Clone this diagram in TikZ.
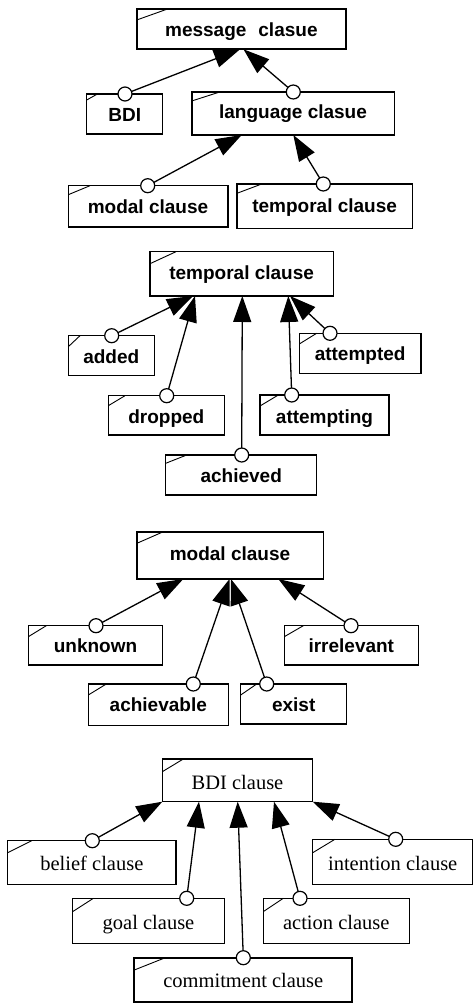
\documentclass[tikz,border=0pt]{standalone}
\usepackage{fontspec}
\setmainfont{Liberation Serif}
\setsansfont{Liberation Sans}
\usetikzlibrary{arrows.meta}
\tikzset{
  box/.style={draw, rectangle, inner sep=0pt, outer sep=0pt, line width=1.1pt, fill=white, text height=15pt, text depth=0pt},
  medbox/.style={box, line width=1.6pt},
  thickbox/.style={box, line width=2pt},
  sanslabel/.style={font=\sffamily\bfseries\fontsize{19}{22}\selectfont},
  seriflabel/.style={font=\rmfamily\fontsize{20.5}{24}\selectfont},
  port/.style={draw, circle, fill=white, line width=1.2pt, minimum size=14pt, inner sep=0pt, outer sep=0pt},
  inh/.style={-{Triangle[length=26pt,width=18pt]}, line width=1.3pt},
  cornerline/.style={line width=0.9pt}
}
\newcommand\cornermark[3]{\draw[cornerline] ([yshift=-#3pt]#1.north west) -- ([xshift=#2pt]#1.north west);}
\begin{document}
\begin{tikzpicture}[x=1pt,y=-1pt]
\useasboundingbox (0,0) rectangle (474,1003);
% ---------- section 1
\node[thickbox, sanslabel, minimum width=209.3pt, minimum height=40pt] (msg) at (241.35,29.3) {message\hspace{12pt}clasue};
\node[box, sanslabel, minimum width=76pt, minimum height=40pt] (bdi) at (124.7,114) {BDI};
\node[medbox, sanslabel, minimum width=202.6pt, minimum height=43pt, text height=11pt] (lang) at (293,113.5) {language clasue};
\node[medbox, sanslabel, minimum width=159.4pt, minimum height=41pt, text height=14pt] (modalA) at (148,206.2) {modal clause};
\node[medbox, sanslabel, minimum width=175.3pt, minimum height=44.3pt, text height=12pt] (tempA) at (324.65,206.15) {temporal clause};
\cornermark{msg}{30}{10.7}
\cornermark{bdi}{10.7}{6}
\cornermark{lang}{28}{9}
\cornermark{modalA}{21.7}{9}
\cornermark{tempA}{24.7}{9.3}
\coordinate (t1) at (240,49.3);
\coordinate (t2) at (243.5,49.3);
\coordinate (t3) at (241.7,135);
\coordinate (t4) at (293.3,135);
\node[port] (pbdi) at (125,94) {};
\node[port] (plang) at (293.3,92) {};
\node[port] (pmodalA) at (147.7,185.7) {};
\node[port] (ptempA) at (323.3,184) {};
\draw[inh] (pbdi) -- (t1);
\draw[inh] (plang) -- (t2);
\draw[inh] (pmodalA) -- (t3);
\draw[inh] (ptempA) -- (t4);
% ---------- section 2
\node[box, sanslabel, minimum width=183.3pt, minimum height=44.3pt, text height=11pt] (tempB) at (241.65,273.85) {temporal clause};
\node[box, sanslabel, minimum width=86pt, minimum height=40pt] (added) at (111.3,355.7) {added};
\node[box, sanslabel, minimum width=116pt, minimum height=39.3pt, text height=16pt] (dropped) at (166.3,415.35) {dropped};
\node[box, sanslabel, minimum width=151pt, minimum height=40pt] (achieved) at (241.2,475) {achieved};
\node[box, sanslabel, minimum width=129pt, minimum height=40pt, text height=16pt] (attempting) at (324.5,415) {attempting};
\node[box, sanslabel, minimum width=121.7pt, minimum height=40pt] (attempted) at (360.15,353.3) {attempted};
\cornermark{tempB}{26}{12}
\cornermark{added}{11.7}{11}
\cornermark{dropped}{16.7}{10}
\cornermark{achieved}{21}{8.3}
\cornermark{attempting}{18.3}{11}
\cornermark{attempted}{17.3}{10.7}
\coordinate (t5) at (193,296);
\coordinate (t6) at (195,296);
\coordinate (t7) at (242.3,296);
\coordinate (t8) at (288.3,296);
\coordinate (t9) at (290,296);
\node[port] (padded) at (111.7,335.7) {};
\node[port] (pdropped) at (166.7,395.7) {};
\node[port] (pachieved) at (241.7,455) {};
\node[port] (pattempting) at (291.7,395) {};
\node[port] (pattempted) at (330,333.3) {};
\draw[inh] (padded) -- (t5);
\draw[inh] (pdropped) -- (t6);
\draw[inh] (pachieved) -- (t7);
\draw[inh] (pattempting) -- (t8);
\draw[inh] (pattempted) -- (t9);
% ---------- section 3
\node[medbox, sanslabel, minimum width=186.6pt, minimum height=47.3pt, text height=9.5pt] (modalB) at (230,555.35) {modal clause};
\node[box, sanslabel, minimum width=134.4pt, minimum height=39.3pt] (unknown) at (95.5,645.35) {unknown};
\node[box, sanslabel, minimum width=140pt, minimum height=41.7pt, text height=14pt] (achievable) at (158.3,704.85) {achievable};
\node[box, sanslabel, minimum width=106pt, minimum height=40pt] (exist) at (293.7,704) {exist};
\node[box, sanslabel, minimum width=134pt, minimum height=39.3pt] (irrelevant) at (351.3,645.35) {irrelevant};
\cornermark{modalB}{26.7}{11.7}
\cornermark{unknown}{18}{11}
\cornermark{achievable}{18}{11}
\cornermark{exist}{16}{11}
\cornermark{irrelevant}{19}{11}
\coordinate (t10) at (183.3,579);
\coordinate (t11) at (229.5,579);
\coordinate (t12) at (231,579);
\coordinate (t13) at (278.3,579);
\node[port] (punknown) at (96,625.7) {};
\node[port] (pachievable) at (193.3,684) {};
\node[port] (pexist) at (266.7,684) {};
\node[port] (pirrelevant) at (351,625.7) {};
\draw[inh] (punknown) -- (t10);
\draw[inh] (pachievable) -- (t11);
\draw[inh] (pexist) -- (t12);
\draw[inh] (pirrelevant) -- (t13);
% ---------- section 4
\node[box, seriflabel, minimum width=150.4pt, minimum height=42.7pt, text height=18pt] (bdic) at (237.5,780.35) {BDI clause};
\node[box, seriflabel, minimum width=168.3pt, minimum height=43.6pt] (belief) at (91.85,862.5) {belief clause};
\node[box, seriflabel, minimum width=151.6pt, minimum height=45pt, text height=16.4pt] (goal) at (148.5,920.8) {goal clause};
\node[thickbox, seriflabel, minimum width=218pt, minimum height=44pt, text height=16pt] (commit) at (243.3,979.7) {commitment clause};
\node[box, seriflabel, minimum width=146pt, minimum height=45pt, text height=16.4pt] (action) at (336.3,920.8) {action clause};
\node[box, seriflabel, minimum width=159.6pt, minimum height=45pt, text height=16.4pt] (intention) at (392.7,861.8) {intention clause};
\cornermark{bdic}{21}{12.7}
\cornermark{belief}{24}{12}
\cornermark{goal}{20.7}{13.3}
\cornermark{commit}{31}{12.3}
\cornermark{action}{20}{13.3}
\cornermark{intention}{22}{13.3}
\coordinate (t14) at (162.3,801.7);
\coordinate (t15) at (199,801.7);
\coordinate (t16) at (237.7,801.7);
\coordinate (t17) at (274,801.7);
\coordinate (t18) at (312.7,801.7);
\node[port] (pbelief) at (92.3,840.7) {};
\node[port] (pgoal) at (186.7,898.3) {};
\node[port] (pcommit) at (243.3,957.7) {};
\node[port] (paction) at (300,898.3) {};
\node[port] (pintention) at (395.7,839.3) {};
\draw[inh] (pbelief) -- (t14);
\draw[inh] (pgoal) -- (t15);
\draw[inh] (pcommit) -- (t16);
\draw[inh] (paction) -- (t17);
\draw[inh] (pintention) -- (t18);
\end{tikzpicture}
\end{document}
